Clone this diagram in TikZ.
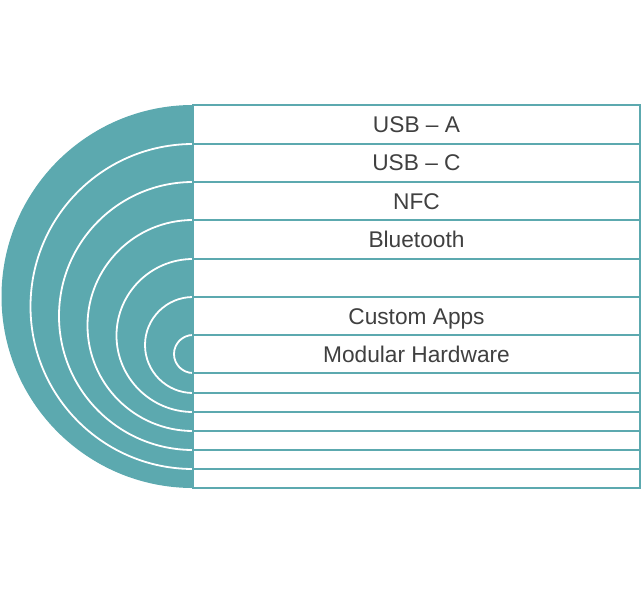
\documentclass[tikz,border=0pt]{standalone}
\usepackage{fontspec}
\setmainfont{Liberation Sans}
\definecolor{ringteal}{HTML}{5CA9AF}
\definecolor{labelgrey}{HTML}{404040}
\tikzset{
  rowbox/.style={draw=ringteal, line width=1.6pt, fill=white, rectangle,
    minimum width=447pt, inner sep=0pt, outer sep=0pt, text=labelgrey,
    text height=16pt, text depth=0pt,
    font=\fontsize{22.7}{26}\selectfont},
  ringline/.style={draw=white, line width=1.8pt}
}
\begin{document}
\begin{tikzpicture}[x=1pt,y=-1pt]
    \useasboundingbox (0,0) rectangle (641,594);
    % half rings on the left
    \begin{scope}
        \clip (0,0) rectangle (193,594);
        \fill[ringteal] (193,296.5) circle (191.5);
        \foreach \cy/\rad in {306.5/162.5, 316/134, 325.5/105.5, 335.5/76.5, 345/48, 354/19}
            \draw[ringline] (193,\cy) circle (\rad);
    \end{scope}
    % the rows
    \foreach \top/\bot/\lbl [count=\i] in {105/144/{USB – A}, 144/182/{USB – C},
            182/220/{NFC}, 220/259/{Bluetooth}, 259/297/{}, 297/335/{Custom Apps},
            335/373/{Modular Hardware}, 373/393/{}, 393/412/{}, 412/431/{},
            431/450/{}, 450/469/{}, 469/488/{}}
        \node[rowbox, minimum height={\bot-\top}] (row\i) at (416.5,{(\top+\bot)/2}) {\lbl};
\end{tikzpicture}
\end{document}
